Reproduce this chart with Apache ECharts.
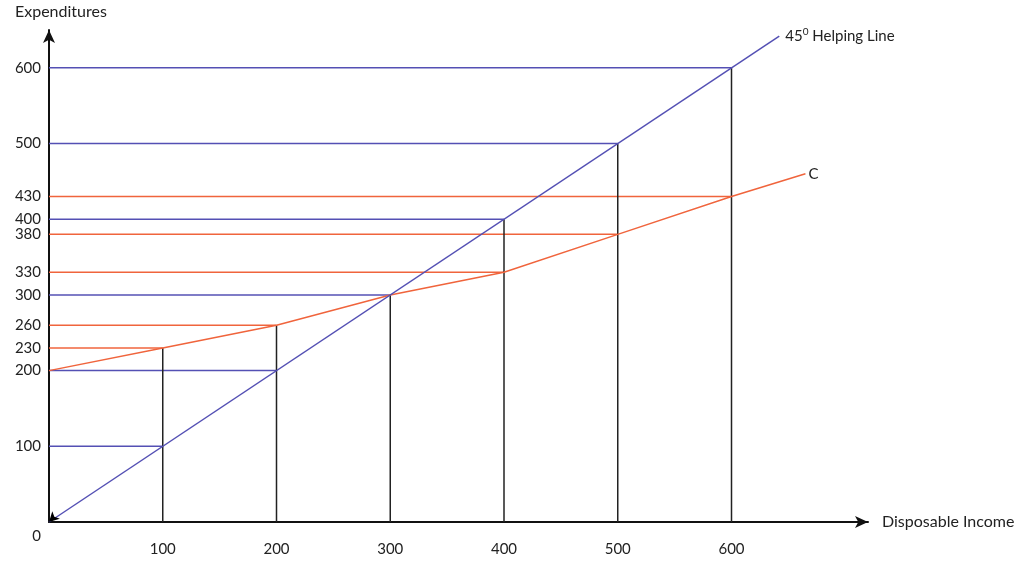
<!DOCTYPE html>
<html>
<head>
<meta charset="utf-8">
<script src="https://cdn.jsdelivr.net/npm/echarts@6/dist/echarts.min.js"></script>
<style>
  html, body { margin: 0; padding: 0; background: #fff; }
  #chart { width: 1024px; height: 566px; }
</style>
</head>
<body>
<div id="chart"></div>
<script>
// disposable income levels and consumption at each level
const incomeTicks = [100, 200, 300, 400, 500, 600]
const consumption = [230, 260, 300, 330, 380, 430]
const autonomous = 200
const cEnd = [665, 460]
const helpingEnd = 642
const yTicks = [0, 100, 200, 230, 260, 300, 330, 380, 400, 430, 500, 600]

const BLUE = '#5450b4'
const ORANGE = '#f0643c'
const BLACK = '#222'
const FONT = 'Lato'

const seg = (data, color, extra) => Object.assign({
  type: 'line',
  data,
  showSymbol: false,
  silent: true,
  lineStyle: { color, width: 1.5 },
}, extra || {})

const series = []

// orange guide lines from C curve to the y axis
incomeTicks.forEach((x, i) => {
  const c = consumption[i]
  if (c !== x) series.push(seg([[0, c], [x, c]], ORANGE))
})
// blue guide lines from the 45 degree line to the y axis
incomeTicks.forEach((x) => {
  series.push(seg([[0, x], [x, x]], BLUE))
})
// black verticals
incomeTicks.forEach((x, i) => {
  series.push(seg([[x, 0], [x, Math.max(x, consumption[i])]], BLACK))
})

// consumption function
series.push(seg(
  [[0, autonomous]].concat(incomeTicks.map((x, i) => [x, consumption[i]])).concat([cEnd]),
  ORANGE,
  {
    endLabel: { show: true, formatter: 'C', color: '#222', fontFamily: FONT, fontSize: 15, distance: 3 },
  }
))

// 45 degree helping line
series.push(seg(
  [{ value: [0, 0], symbol: 'arrow', symbolSize: [8, 10], symbolRotate: 135 }, [helpingEnd, helpingEnd]],
  BLUE,
  {
    showSymbol: true,
    symbol: 'none',
    itemStyle: { color: '#000' },
    endLabel: {
      show: true,
      formatter: '45{sup|0} Helping Line',
      color: '#222',
      fontFamily: FONT,
      fontSize: 15,
      distance: 6,
      rich: { sup: { fontSize: 10, verticalAlign: 'top', padding: [0, 0, 8, 0], fontFamily: FONT, color: '#222' } },
    },
  }
))

const chart = echarts.init(document.getElementById('chart'))
chart.setOption({
  animation: false,
  grid: { left: 49, right: 156, top: 30, bottom: 44, containLabel: false },
  xAxis: {
    type: 'value',
    min: 0,
    max: 720,
    name: 'Disposable Income',
    nameLocation: 'end',
    nameGap: 14,
    nameTextStyle: { color: '#222', fontFamily: FONT, fontSize: 16 },
    axisLine: { lineStyle: { color: '#111', width: 2 }, symbol: ['none', 'arrow'], symbolSize: [9, 13] },
    axisTick: { show: false },
    splitLine: { show: false },
    axisLabel: {
      customValues: incomeTicks,
      margin: 20,
      color: '#222',
      fontFamily: FONT,
      fontSize: 15,
    },
  },
  yAxis: {
    type: 'value',
    min: 0,
    max: 650,
    name: 'Expenditures',
    nameLocation: 'end',
    nameGap: 10,
    nameTextStyle: { color: '#222', fontFamily: FONT, fontSize: 16, align: 'left', padding: [0, 0, 0, -34] },
    axisLine: { lineStyle: { color: '#111', width: 2 }, symbol: ['none', 'arrow'], symbolSize: [9, 13] },
    axisTick: { show: false },
    splitLine: { show: false },
    axisLabel: {
      customValues: yTicks,
      margin: 8,
      color: '#222',
      fontFamily: FONT,
      fontSize: 15,
      formatter: (v) => (v === 0 ? '{z|0}' : String(v)),
      rich: { z: { padding: [28, 0, 0, 0], fontFamily: FONT, fontSize: 15, color: '#222' } },
    },
  },
  series,
})
</script>
</body>
</html>
